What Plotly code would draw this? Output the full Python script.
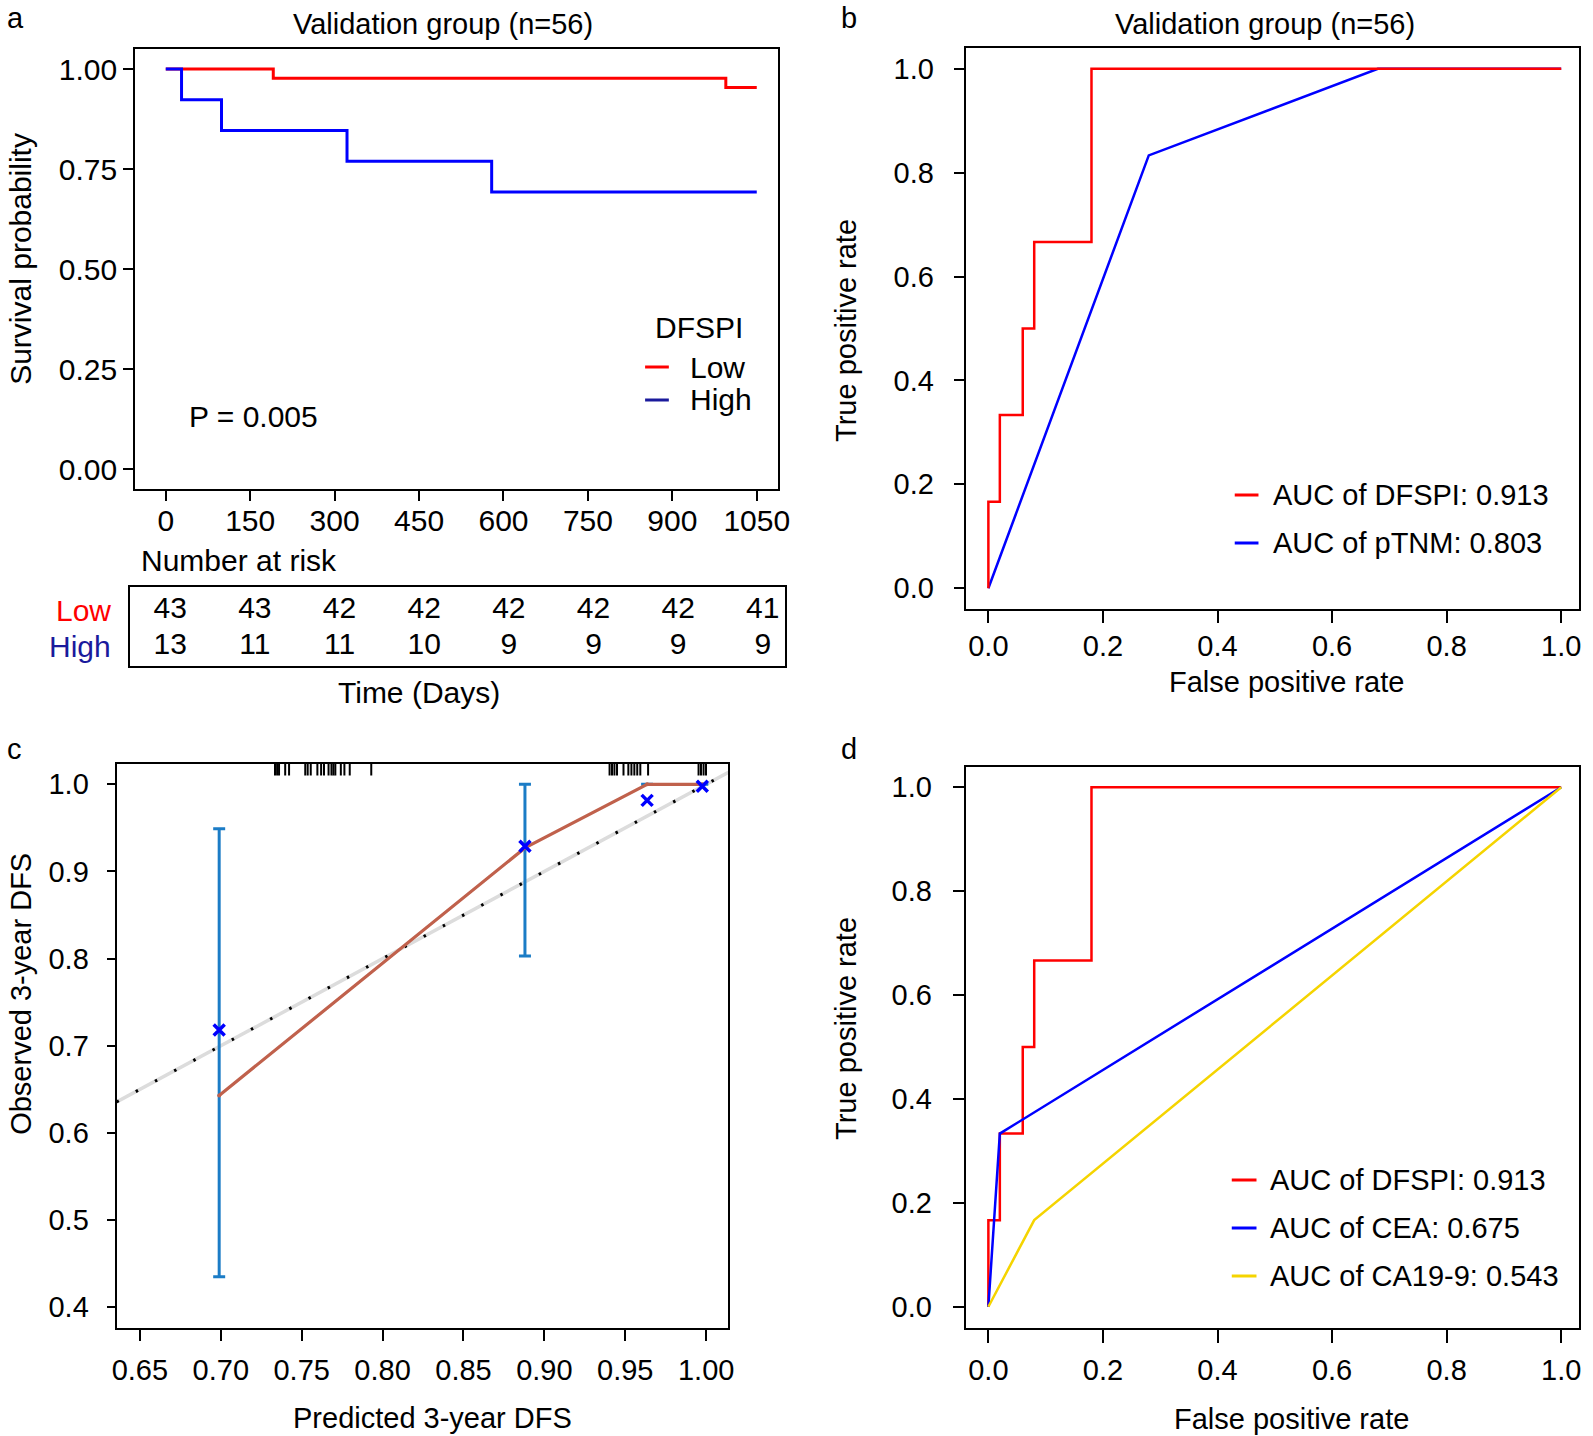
import plotly.graph_objects as go

W, H = 1593, 1436
FONT = "Liberation Sans, Arial, Helvetica, sans-serif"
FSA = 30   # panel a text size
FS = 29    # other panels

# ---------------- data ----------------
# Panel a: Kaplan-Meier (validation group)
km_low_t = [0, 191, 995, 1050]
km_low_s = [1.0, 0.9767, 0.9535, 0.9535]
km_high_t = [0, 28, 99, 322, 579, 1050]
km_high_s = [1.0, 0.9231, 0.8462, 0.7692, 0.6923, 0.6923]
km_xticks = [0, 150, 300, 450, 600, 750, 900, 1050]
km_yticks = [0.0, 0.25, 0.5, 0.75, 1.0]
risk_times = [0, 150, 300, 450, 600, 750, 900, 1050]
risk_low = [43, 43, 42, 42, 42, 42, 42, 41]
risk_high = [13, 11, 11, 10, 9, 9, 9, 9]
p_text = "P = 0.005"

# Panel b / d: ROC curves
roc_dfspi_fpr = [0, 0, 0.02, 0.02, 0.06, 0.06, 0.08, 0.08, 0.18, 0.18, 1.0]
roc_dfspi_tpr = [0, 0.1667, 0.1667, 0.3333, 0.3333, 0.5, 0.5, 0.6667, 0.6667, 1.0, 1.0]
roc_ptnm_fpr = [0, 0.28, 0.68, 1.0]
roc_ptnm_tpr = [0, 0.8333, 1.0, 1.0]
roc_cea_fpr = [0, 0.02, 1.0]
roc_cea_tpr = [0, 0.3333, 1.0]
roc_ca199_fpr = [0, 0.08, 1.0]
roc_ca199_tpr = [0, 0.1667, 1.0]
roc_ticks = [0.0, 0.2, 0.4, 0.6, 0.8, 1.0]
auc_b = ["AUC of DFSPI: 0.913", "AUC of pTNM: 0.803"]
auc_d = ["AUC of DFSPI: 0.913", "AUC of CEA: 0.675", "AUC of CA19-9: 0.543"]

# Panel c: calibration
cal_pred = [0.699, 0.888, 0.9635, 0.9976]
cal_obs = [0.643, 0.927, 1.0, 1.0]
cal_lo = [0.435, 0.803, 1.0, 1.0]
cal_hi = [0.949, 1.0, 1.0, 1.0]
cal_bc = [0.718, 0.929, 0.9816, 0.9977]
cal_rug = [0.7335, 0.7348, 0.736, 0.7398, 0.7422, 0.7522, 0.7537, 0.7556, 0.7597,
           0.762, 0.7638, 0.7666, 0.7684, 0.7696, 0.7708, 0.7742, 0.7764, 0.7797,
           0.793, 0.9403, 0.9418, 0.9433, 0.9449, 0.9489, 0.9519, 0.9538, 0.9556,
           0.9574, 0.9593, 0.9641, 0.9953, 0.9968, 0.9984, 0.9999]
cal_xticks = [0.65, 0.70, 0.75, 0.80, 0.85, 0.90, 0.95, 1.00]
cal_yticks = [0.4, 0.5, 0.6, 0.7, 0.8, 0.9, 1.0]

# ---------------- styling ----------------
RED = "#FF0000"
BLUE = "#0000FF"
NAVY = "#1A1A9C"
YELLOW = "#F5D400"
ERR = "#1B7CC6"
BROWN = "#C0614C"


def PX(x):
    return x / W


def PY(y):
    return 1 - y / H


def axis(dom, rng, tickvals, ticktext, ticklen, standoff, anchor, size=FS, show=True):
    d = dict(domain=dom, range=rng, showline=True, linewidth=2, linecolor="black",
             mirror=True, showgrid=False, zeroline=False, anchor=anchor, fixedrange=True)
    if show:
        d.update(tickvals=tickvals, ticktext=ticktext, ticks="outside", ticklen=ticklen,
                 tickwidth=2, tickcolor="black", ticklabelstandoff=standoff,
                 tickfont=dict(size=size, family=FONT, color="black"))
    else:
        d.update(showticklabels=False, ticks="")
    return d


fig = go.Figure()

# ---- panel a ----
fig.add_trace(go.Scatter(x=km_low_t, y=km_low_s, mode="lines", line=dict(color=RED, width=3, shape="hv"),
                         xaxis="x", yaxis="y", showlegend=False))
fig.add_trace(go.Scatter(x=km_high_t, y=km_high_s, mode="lines", line=dict(color=BLUE, width=3, shape="hv"),
                         xaxis="x", yaxis="y", showlegend=False))
# risk table
fig.add_trace(go.Scatter(x=risk_times, y=["Low"] * len(risk_times), text=[str(v) for v in risk_low],
                         mode="text", textfont=dict(size=FSA, family=FONT, color="black"),
                         xaxis="x5", yaxis="y5", showlegend=False))
fig.add_trace(go.Scatter(x=risk_times, y=["High"] * len(risk_times), text=[str(v) for v in risk_high],
                         mode="text", textfont=dict(size=FSA, family=FONT, color="black"),
                         xaxis="x5", yaxis="y5", showlegend=False))

# ---- panel b ----
fig.add_trace(go.Scatter(x=roc_ptnm_fpr, y=roc_ptnm_tpr, mode="lines", line=dict(color=BLUE, width=2.5),
                         xaxis="x2", yaxis="y2", showlegend=False))
fig.add_trace(go.Scatter(x=roc_dfspi_fpr, y=roc_dfspi_tpr, mode="lines", line=dict(color=RED, width=2.5),
                         xaxis="x2", yaxis="y2", showlegend=False))

# ---- panel c ----
xr_c = [0.6356, 1.0138]
fig.add_trace(go.Scatter(x=xr_c, y=xr_c, mode="lines", line=dict(color="#DCDCDC", width=3.5),
                         xaxis="x3", yaxis="y3", showlegend=False))
fig.add_trace(go.Scatter(x=xr_c, y=xr_c, mode="lines", line=dict(color="black", width=3, dash="2.5px,19.3px"),
                         xaxis="x3", yaxis="y3", showlegend=False))
fig.add_trace(go.Scatter(x=cal_pred, y=cal_obs, mode="markers", marker=dict(size=1, color=ERR, opacity=0),
                         error_y=dict(type="data", symmetric=False,
                                      array=[h - o for h, o in zip(cal_hi, cal_obs)],
                                      arrayminus=[o - l for o, l in zip(cal_obs, cal_lo)],
                                      color=ERR, thickness=3, width=6),
                         xaxis="x3", yaxis="y3", showlegend=False))
fig.add_trace(go.Scatter(x=cal_pred, y=cal_obs, mode="lines+markers", line=dict(color=BROWN, width=3.2),
                         marker=dict(size=4, color=BROWN),
                         xaxis="x3", yaxis="y3", showlegend=False))
fig.add_trace(go.Scatter(x=cal_pred, y=cal_bc, mode="markers",
                         marker=dict(symbol="x-thin", size=11, line=dict(color=BLUE, width=3.5), color=BLUE),
                         xaxis="x3", yaxis="y3", showlegend=False))

# ---- panel d ----
fig.add_trace(go.Scatter(x=roc_dfspi_fpr, y=roc_dfspi_tpr, mode="lines", line=dict(color=RED, width=2.5),
                         xaxis="x4", yaxis="y4", showlegend=False))
fig.add_trace(go.Scatter(x=roc_cea_fpr, y=roc_cea_tpr, mode="lines", line=dict(color=BLUE, width=2.5),
                         xaxis="x4", yaxis="y4", showlegend=False))
fig.add_trace(go.Scatter(x=roc_ca199_fpr, y=roc_ca199_tpr, mode="lines", line=dict(color=YELLOW, width=2.5),
                         xaxis="x4", yaxis="y4", showlegend=False))

# ---------------- axes ----------------
layout = dict(
    width=W, height=H, margin=dict(l=0, r=0, t=0, b=0),
    paper_bgcolor="white", plot_bgcolor="white",
    font=dict(family=FONT, size=FS, color="black"),
)
layout["xaxis"] = axis([PX(131.5), PX(781.5)], [-54.5, 1088], km_xticks, [str(v) for v in km_xticks],
                       10, -6, "y", size=FSA)
layout["yaxis"] = axis([PY(489), PY(49)], [-0.05, 1.05], km_yticks, [f"{v:.2f}" for v in km_yticks],
                       10, 0, "x", size=FSA)

layout["xaxis2"] = axis([PX(971), PX(1591)], [-0.0397, 1.0311], roc_ticks,
                        [f"{v:.1f}" for v in roc_ticks], 12, -2, "y2")
layout["yaxis2"] = axis([PY(609), PY(48)], [-0.04, 1.04], roc_ticks,
                        [f"{v:.1f}" for v in roc_ticks], 10, 14, "x2")

layout["xaxis3"] = axis([PX(112.8), PX(731.3)], xr_c, cal_xticks, [f"{v:.2f}" for v in cal_xticks],
                        11, 4, "y3")
layout["yaxis3"] = axis([PY(1328), PY(763.5)], [0.3762, 1.0239], cal_yticks,
                        [f"{v:.1f}" for v in cal_yticks], 8, 12, "x3")

layout["xaxis4"] = axis([PX(971), PX(1591)], [-0.0397, 1.0311], roc_ticks,
                        [f"{v:.1f}" for v in roc_ticks], 13, 3, "y4")
layout["yaxis4"] = axis([PY(1327.5), PY(766.5)], [-0.04, 1.04], roc_ticks,
                        [f"{v:.1f}" for v in roc_ticks], 11, 15, "x4")

layout["xaxis5"] = axis([PX(126), PX(788)], [-71.9, 1088.6], None, None, 0, 0, "y5", show=False)
layout["yaxis5"] = axis([PY(666), PY(587)], [-0.526, 1.627], None, None, 0, 0, "x5", show=False)
layout["yaxis5"].update(type="category", categoryorder="array", categoryarray=["High", "Low"])

fig.update_layout(**layout)

# ---------------- annotations ----------------
anns = []


def ann(text, x, y, size=FS, xanchor="center", yanchor="middle", color="black", angle=0):
    anns.append(dict(text=text, x=PX(x), y=PY(y), xref="paper", yref="paper", showarrow=False,
                     xanchor=xanchor, yanchor=yanchor, textangle=angle,
                     font=dict(size=size, family=FONT, color=color)))


# panel letters
ann("a", 0, 0, xanchor="left", yanchor="top")
ann("b", 853, 0, yanchor="top")
ann("c", 0, 731, xanchor="left", yanchor="top")
ann("d", 853, 731, yanchor="top")

# panel titles
ann("Validation group (n=56)", 443, 6, yanchor="top")
ann("Validation group (n=56)", 1274, 6, yanchor="top")

# panel a
ann("Survival probability", 16, 259, size=FSA, angle=-90)
ann(p_text, 251, 416, size=FSA)
ann("DFSPI", 701, 327, size=FSA)
ann("Low", 690, 367, size=FSA, xanchor="left")
ann("High", 690, 399, size=FSA, xanchor="left")
ann("Number at risk", 135, 560, size=FSA, xanchor="left")
ann("Time (Days)", 418, 692, size=FSA)
# risk table row labels
anns.append(dict(text="Low", x=PX(109), y="Low", xref="paper", yref="y5", showarrow=False,
                 xanchor="right", yanchor="middle", font=dict(size=FSA, family=FONT, color=RED)))
anns.append(dict(text="High", x=PX(109), y="High", xref="paper", yref="y5", showarrow=False,
                 xanchor="right", yanchor="middle", font=dict(size=FSA, family=FONT, color=NAVY)))

# panel b
ann("True positive rate", 850, 330, angle=-90)
ann("False positive rate", 1295, 682)
ann(auc_b[0], 1280, 495, xanchor="left")
ann(auc_b[1], 1280, 543, xanchor="left")

# panel c
ann("Observed 3-year DFS", 16, 994, angle=-90)
ann("Predicted 3-year DFS", 432, 1418)

# panel d
ann("True positive rate", 850, 1028, angle=-90)
ann("False positive rate", 1300, 1419)
ann(auc_d[0], 1277, 1180, xanchor="left")
ann(auc_d[1], 1277, 1228, xanchor="left")
ann(auc_d[2], 1277, 1276, xanchor="left")

fig.update_layout(annotations=anns)

# ---------------- shapes: legend keys and rug ----------------
shapes = []


def key(x0, x1, y, color):
    shapes.append(dict(type="line", xref="paper", yref="paper", x0=PX(x0), x1=PX(x1),
                       y0=PY(y), y1=PY(y), line=dict(color=color, width=3)))


key(647, 671, 367, RED)
key(647, 671, 400, NAVY)
key(1243, 1267, 495, RED)
key(1243, 1267, 543, BLUE)
key(1240, 1265, 1180, RED)
key(1240, 1265, 1228, BLUE)
key(1240, 1265, 1276, YELLOW)

for r in cal_rug:
    shapes.append(dict(type="line", xref="x3", yref="y3 domain", x0=r, x1=r, y0=1 - 12 / 564.5, y1=1,
                       line=dict(color="black", width=2)))

fig.update_layout(shapes=shapes)

# remove the default 8px page margin so figure pixels line up with the window
fig.write_html("out.html", config={"displayModeBar": False},
               post_script="document.body.style.margin='0';document.documentElement.style.overflow='hidden';")
